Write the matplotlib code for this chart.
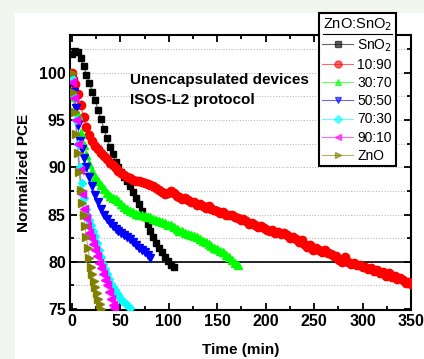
import matplotlib
matplotlib.use("Agg")
import matplotlib.pyplot as plt
from matplotlib.patches import Rectangle
from matplotlib.lines import Line2D
from matplotlib.ticker import MultipleLocator

# ── data ─────────────────────────────────────────────────────────────────────
t_sno2 = [0, 3, 6, 9, 12, 15, 18, 21, 24, 27, 30, 33, 36, 39, 42, 45, 48, 51,
          54, 57, 60, 63, 66, 69, 72, 75, 78, 81, 84, 87, 90, 93, 96, 99, 102, 105]
pce_sno2 = [102.0, 102.3, 102.2, 101.6, 100.7, 99.8, 98.9, 98.0, 97.1, 96.1,
            95.1, 94.1, 93.1, 92.2, 91.4, 90.6, 90.0, 89.5, 89.0, 88.5, 88.0,
            87.4, 86.8, 86.1, 85.4, 84.7, 84.0, 83.3, 82.6, 82.0, 81.5, 81.0,
            80.5, 80.1, 79.7, 79.4]

t_1090 = [0, 1, 3, 6, 9, 12, 15, 18, 21, 24, 27, 30, 33, 36, 39, 42, 45, 48, 51,
          54, 57, 60, 63, 66, 69, 72, 75, 78, 81, 84, 87, 90, 93, 96, 99, 102,
          105, 108, 111, 114, 117, 120, 123, 126, 129, 132, 135, 138, 141, 144,
          147, 150, 153, 156, 159, 162, 165, 168, 171, 174, 177, 180, 183, 186,
          189, 192, 195, 198, 201, 204, 207, 210, 213, 216, 219, 222, 225, 228,
          231, 234, 237, 240, 243, 246, 249, 252, 255, 258, 261, 264, 267, 270,
          273, 276, 279, 282, 285, 288, 291, 294, 297, 300, 303, 306, 309, 312,
          315, 318, 321, 324, 327, 330, 333, 336, 339, 342, 345, 348, 350]
pce_1090 = [100.0, 99.3, 98.8, 97.8, 96.6, 95.3, 94.3, 93.4, 92.8, 92.3, 91.9,
            91.5, 91.2, 90.9, 90.5, 90.2, 89.9, 89.6, 89.4, 89.2, 89.0, 88.9,
            88.7, 88.6, 88.5, 88.4, 88.3, 88.2, 88.1, 88.0, 87.8, 87.6, 87.4,
            87.2, 87.3, 87.5, 87.3, 87.0, 86.9, 86.6, 86.7, 86.5, 86.3, 86.3,
            86.0, 86.1, 85.9, 85.7, 85.9, 85.6, 85.5, 85.4, 85.2, 85.3, 85.0,
            84.9, 85.0, 84.7, 84.6, 84.4, 84.5, 84.3, 84.0, 84.1, 83.9, 83.7,
            83.8, 83.6, 83.4, 83.3, 83.4, 83.1, 83.2, 82.9, 83.0, 82.8, 82.5,
            82.6, 82.4, 82.1, 82.3, 81.9, 81.6, 81.8, 81.2, 81.5, 81.3, 81.0,
            81.2, 80.9, 80.8, 80.6, 80.6, 80.2, 80.0, 80.5, 80.0, 79.8, 79.9,
            79.7, 79.7, 79.4, 79.5, 79.2, 79.3, 79.0, 79.1, 78.8, 78.9, 78.5,
            78.8, 78.4, 78.5, 78.2, 78.3, 78.1, 77.8, 77.9, 77.6]

t_3070 = [0, 3, 6, 9, 12, 15, 18, 21, 24, 27, 30, 33, 36, 39, 42, 45, 48, 51,
          54, 57, 60, 63, 66, 69, 72, 75, 78, 81, 84, 87, 90, 93, 96, 99, 102,
          105, 108, 111, 114, 117, 120, 123, 126, 129, 132, 135, 138, 141, 144,
          147, 150, 153, 156, 159, 162, 165, 168, 171]
pce_3070 = [99.6, 97.4, 95.5, 93.6, 92.4, 91.3, 90.3, 89.6, 89.0, 88.5, 88.1,
            87.7, 87.3, 87.0, 86.8, 86.6, 86.4, 86.1, 85.8, 85.6, 85.4, 85.3,
            85.1, 85.0, 84.9, 84.8, 84.7, 84.7, 84.5, 84.4, 84.3, 84.2, 84.1,
            83.9, 83.9, 83.7, 83.5, 83.3, 83.3, 83.1, 82.9, 82.8, 82.7, 82.6,
            82.4, 82.2, 82.1, 81.9, 81.7, 81.5, 81.4, 81.1, 81.0, 80.7, 80.5,
            80.2, 79.9, 79.7]

t_5050 = [0, 2, 4, 6, 8, 10, 12, 15, 18, 21, 24, 27, 30, 33, 36, 39, 42, 45,
          48, 51, 54, 57, 60, 63, 66, 69, 72, 75, 78, 81]
pce_5050 = [99.0, 98.0, 96.3, 94.5, 92.8, 91.9, 91.0, 90.0, 89.0, 88.0, 87.1,
            86.3, 85.6, 85.0, 84.5, 84.1, 83.8, 83.5, 83.3, 83.0, 82.8, 82.6,
            82.4, 82.1, 81.8, 81.5, 81.3, 81.0, 80.7, 80.4]

t_7030 = [0, 2, 4, 6, 8, 10, 12, 14, 16, 18, 20, 22, 24, 26, 28, 30, 32, 34,
          36, 38, 40, 42, 44, 46, 48, 50, 52, 54, 56, 58, 60]
pce_7030 = [99.5, 97.5, 95.0, 92.5, 90.0, 88.3, 86.8, 85.6, 84.9, 84.4, 83.9,
            83.3, 82.7, 82.0, 81.2, 80.5, 79.8, 79.2, 78.7, 78.2, 77.7, 77.3,
            77.0, 76.7, 76.5, 76.2, 75.9, 75.7, 75.5, 75.3, 75.1]

t_9010 = [0, 2, 4, 6, 8, 10, 12, 14, 16, 18, 20, 22, 24, 26, 28, 30, 32, 34,
          36, 38, 40, 42, 43]
pce_9010 = [99.0, 97.3, 95.0, 92.5, 89.7, 87.2, 85.6, 84.6, 83.8, 83.1, 82.5,
            81.9, 81.3, 80.6, 79.9, 79.3, 78.7, 78.1, 77.5, 76.8, 76.1, 75.4,
            75.1]

t_zno = [0, 1.5, 3, 4.5, 6, 7.5, 9, 10.5, 12, 13.5, 15, 16.5, 18, 19.5, 21,
         22.5, 24, 25.5, 27, 28.5, 30]
pce_zno = [100.0, 98.0, 95.8, 93.5, 91.5, 89.5, 87.6, 86.2, 85.0, 83.8, 82.6,
           81.5, 80.4, 79.5, 78.7, 78.0, 77.3, 76.7, 76.1, 75.5, 75.0]

labels = ["SnO$_2$", "10:90", "30:70", "50:50", "70:30", "90:10", "ZnO"]

# ── styling ──────────────────────────────────────────────────────────────────
plt.rcParams["font.family"] = ["Liberation Sans", "DejaVu Sans"]

series = [
    (t_sno2, pce_sno2, "black", "s", 4.5),
    (t_1090, pce_1090, "#ff0000", "o", 6.0),
    (t_3070, pce_3070, "#00ff00", "^", 5.5),
    (t_5050, pce_5050, "#0000ff", "v", 5.5),
    (t_7030, pce_7030, "#00ffff", "D", 4.5),
    (t_9010, pce_9010, "#ff00ff", "<", 5.5),
    (t_zno, pce_zno, "#808000", ">", 5.5),
]

fig = plt.figure(figsize=(4.24, 3.59), dpi=100, facecolor="#f1f6ee")
fig.patches.append(Rectangle((15 / 424, 0), 1, 1 - 13 / 359,
                             transform=fig.transFigure, facecolor="white",
                             edgecolor="none", zorder=-10))

ax = fig.add_axes([70 / 424, 1 - 310 / 359, 341 / 424, 275 / 359])
ax.set_facecolor("white")

for (t, y, col, mk, ms), lab in zip(series, labels):
    ax.plot(t, y, color=col, lw=0.8, alpha=0.6, zorder=3)
    ax.plot(t, y, ls="none", marker=mk, ms=ms, color=col,
            markeredgecolor=col, zorder=4)

ax.axhline(80, color="black", lw=1.2, zorder=2)

ax.set_xlim(-2, 350)
ax.set_ylim(74.9, 104)
ax.xaxis.set_major_locator(MultipleLocator(50))
ax.xaxis.set_minor_locator(MultipleLocator(25))
ax.yaxis.set_major_locator(MultipleLocator(5))
ax.yaxis.set_minor_locator(MultipleLocator(2.5))
ax.tick_params(which="both", direction="in", top=True, right=True, width=1.3)
ax.tick_params(which="major", length=5, labelsize=11.5, pad=3)
ax.tick_params(which="minor", length=3)
for lab in ax.get_xticklabels() + ax.get_yticklabels():
    lab.set_fontweight("bold")
ax.grid(axis="y", which="both", color="#bbbbbb", ls=(0, (1, 1.5)), lw=0.8, zorder=1)
for sp in ax.spines.values():
    sp.set_linewidth(1.5)

ax.set_xlabel("Time (min)", fontsize=11, fontweight="bold", labelpad=10)
ax.set_ylabel("Normalized PCE", fontsize=11, fontweight="bold", labelpad=6)

fig.text(130 / 424, 1 - 80 / 359, "Unencapsulated devices", fontsize=11,
         fontweight="bold", va="center")
fig.text(130 / 424, 1 - 100 / 359, "ISOS-L2 protocol", fontsize=11,
         fontweight="bold", va="center")

# legend
handles = [Line2D([], [], color=col, lw=0.8, alpha=0.6, marker=mk, ms=ms * 0.85,
                  markerfacecolor=col, markeredgecolor=col)
           for (_, _, col, mk, ms) in series]
leg = fig.legend(handles, labels, title="ZnO:SnO$_2$", loc="upper left",
                 bbox_to_anchor=(319 / 424, 1 - 13 / 359),
                 bbox_transform=fig.transFigure, fontsize=10,
                 title_fontsize=10.5, fancybox=False, framealpha=1,
                 edgecolor="black", handlelength=2.2, handletextpad=0.3,
                 labelspacing=0.3, borderpad=0.25, borderaxespad=0)
leg.get_frame().set_linewidth(1.5)
leg.set_zorder(10)

fig.canvas.draw()
bb = leg.get_title().get_window_extent().transformed(fig.transFigure.inverted())
fig.add_artist(Line2D([bb.x0, bb.x1], [bb.y0 - 0.002, bb.y0 - 0.002],
                      transform=fig.transFigure, color="black", lw=0.8,
                      zorder=11))

fig.savefig("out.png", dpi=100, facecolor=fig.get_facecolor())
